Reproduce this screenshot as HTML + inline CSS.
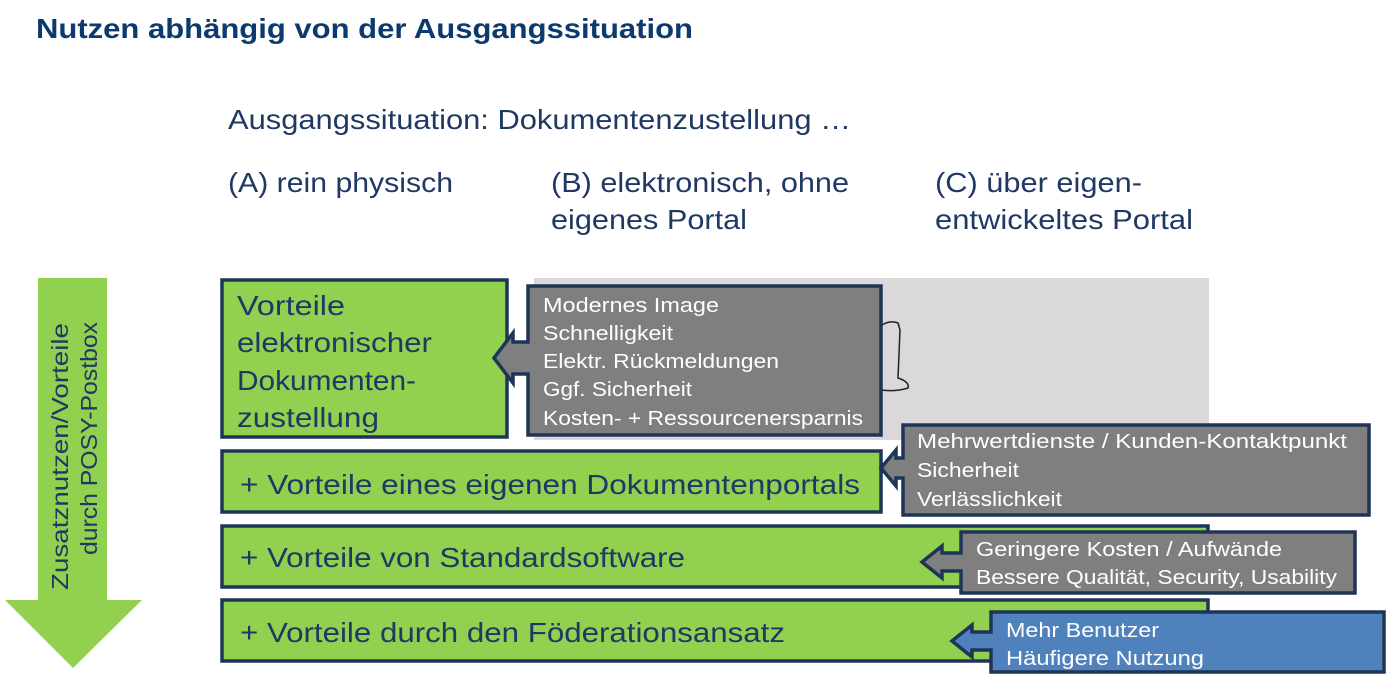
<!DOCTYPE html>
<html><head><meta charset="utf-8"><style>
html,body{margin:0;padding:0;background:#fff}
svg{display:block}
text{font-family:"Liberation Sans",sans-serif}
</style></head><body>
<svg width="1391" height="680" viewBox="0 0 1391 680" xmlns="http://www.w3.org/2000/svg">
<text x="36" y="38" font-size="28" font-weight="bold" fill="#0d3a6e" textLength="657" lengthAdjust="spacingAndGlyphs">Nutzen abhängig von der Ausgangssituation</text>
<g fill="#1f3864" font-size="28">
<text x="228" y="129" textLength="623" lengthAdjust="spacingAndGlyphs">Ausgangssituation: Dokumentenzustellung …</text>
<text x="228" y="192" textLength="225" lengthAdjust="spacingAndGlyphs">(A) rein physisch</text>
<text x="551" y="192" textLength="298" lengthAdjust="spacingAndGlyphs">(B) elektronisch, ohne</text>
<text x="551" y="229" textLength="196" lengthAdjust="spacingAndGlyphs">eigenes Portal</text>
<text x="935" y="192" textLength="207" lengthAdjust="spacingAndGlyphs">(C) über eigen-</text>
<text x="935" y="229" textLength="258" lengthAdjust="spacingAndGlyphs">entwickeltes Portal</text>
</g>
<polygon points="38,278 107,278 107,600 142,600 73,668 5,600 38,600" fill="#92d050"/>
<g fill="#1f3864" font-size="23">
<text transform="translate(68,590) rotate(-90)" x="0" y="0" textLength="267" lengthAdjust="spacingAndGlyphs">Zusatznutzen/Vorteile</text>
<text transform="translate(97,555) rotate(-90)" x="0" y="0" textLength="233" lengthAdjust="spacingAndGlyphs">durch POSY-Postbox</text>
</g>
<rect x="534" y="278" width="675" height="162" fill="#d9d9d9"/>
<path d="M882,325 Q890,320 898,323 L900,330 L898,378 Q910,382 908,388 Q895,392 882,390" fill="none" stroke="#222" stroke-width="1.5"/>
<g stroke="#1f3557" stroke-width="3.5">
<rect x="222" y="280" width="285" height="157" fill="#92d050"/>
<polygon points="528,286 881,286 881,435 528,435 528,374 513,374 513,383 494,358 513,333 513,342 528,342" fill="#7f7f7f"/>
<rect x="222" y="451" width="659" height="61" fill="#92d050"/>
<polygon points="903,425 1369,425 1369,515 903,515 903,478 896,478 896,486 881,468 896,450 896,458 903,458" fill="#7f7f7f"/>
<rect x="222" y="526" width="986" height="61" fill="#92d050"/>
<polygon points="961,532 1355,532 1355,593 961,593 961,571 942,571 942,578 922,562 942,546 942,553 961,553" fill="#7f7f7f"/>
<rect x="222" y="600" width="986" height="61" fill="#92d050"/>
<polygon points="991,612 1384,612 1384,672 991,672 991,650 972,650 972,657 952,641 972,625 972,632 991,632" fill="#4f81bd"/>
</g>
<g fill="#1f3864" font-size="28">
<text x="237" y="315" textLength="108" lengthAdjust="spacingAndGlyphs">Vorteile</text>
<text x="237" y="352" textLength="195" lengthAdjust="spacingAndGlyphs">elektronischer</text>
<text x="237" y="390" textLength="179" lengthAdjust="spacingAndGlyphs">Dokumenten-</text>
<text x="237" y="427" textLength="142" lengthAdjust="spacingAndGlyphs">zustellung</text>
<text x="240" y="494" textLength="620" lengthAdjust="spacingAndGlyphs">+ Vorteile eines eigenen Dokumentenportals</text>
<text x="240" y="567" textLength="445" lengthAdjust="spacingAndGlyphs">+ Vorteile von Standardsoftware</text>
<text x="240" y="642" textLength="545" lengthAdjust="spacingAndGlyphs">+ Vorteile durch den Föderationsansatz</text>
</g>
<g fill="#fff" font-size="20.5">
<text x="543" y="312" textLength="176" lengthAdjust="spacingAndGlyphs">Modernes Image</text>
<text x="543" y="340" textLength="130" lengthAdjust="spacingAndGlyphs">Schnelligkeit</text>
<text x="543" y="368" textLength="236" lengthAdjust="spacingAndGlyphs">Elektr. Rückmeldungen</text>
<text x="543" y="396" textLength="149" lengthAdjust="spacingAndGlyphs">Ggf. Sicherheit</text>
<text x="543" y="425" textLength="320" lengthAdjust="spacingAndGlyphs">Kosten- + Ressourcenersparnis</text>
<text x="917" y="448" textLength="430" lengthAdjust="spacingAndGlyphs">Mehrwertdienste / Kunden-Kontaktpunkt</text>
<text x="917" y="477" textLength="102" lengthAdjust="spacingAndGlyphs">Sicherheit</text>
<text x="917" y="506" textLength="145" lengthAdjust="spacingAndGlyphs">Verlässlichkeit</text>
<text x="976" y="556" textLength="306" lengthAdjust="spacingAndGlyphs">Geringere Kosten / Aufwände</text>
<text x="976" y="584" textLength="361" lengthAdjust="spacingAndGlyphs">Bessere Qualität, Security, Usability</text>
<text x="1006" y="637" textLength="153" lengthAdjust="spacingAndGlyphs">Mehr Benutzer</text>
<text x="1006" y="665" textLength="198" lengthAdjust="spacingAndGlyphs">Häufigere Nutzung</text>
</g>
</svg>
</body></html>
